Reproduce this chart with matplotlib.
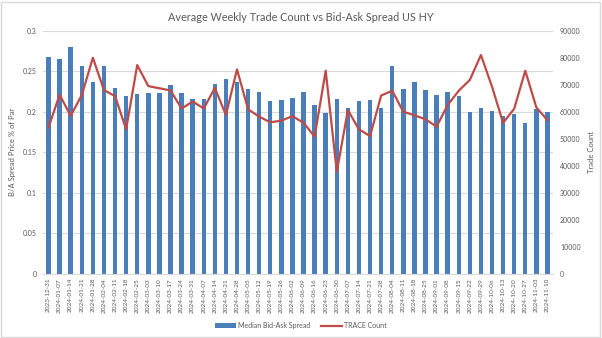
import matplotlib
matplotlib.use("Agg")
import matplotlib.pyplot as plt
from matplotlib.patches import Rectangle
from matplotlib.ticker import FuncFormatter, MultipleLocator

plt.rcParams['font.family'] = ['Lato', 'DejaVu Sans']

weeks = ["2023-12-31", "2024-01-07", "2024-01-14", "2024-01-21", "2024-01-28", "2024-02-04",
         "2024-02-11", "2024-02-18", "2024-02-25", "2024-03-03", "2024-03-10", "2024-03-17",
         "2024-03-24", "2024-03-31", "2024-04-07", "2024-04-14", "2024-04-21", "2024-04-28",
         "2024-05-05", "2024-05-12", "2024-05-19", "2024-05-26", "2024-06-02", "2024-06-09",
         "2024-06-16", "2024-06-23", "2024-06-30", "2024-07-07", "2024-07-14", "2024-07-21",
         "2024-07-28", "2024-08-04", "2024-08-11", "2024-08-18", "2024-08-25", "2024-09-01",
         "2024-09-08", "2024-09-15", "2024-09-22", "2024-09-29", "2024-10-06", "2024-10-13",
         "2024-10-20", "2024-10-27", "2024-11-03", "2024-11-10"]

median_spread = [0.268, 0.265, 0.280, 0.256, 0.237, 0.256, 0.229, 0.219, 0.222, 0.223,
                 0.223, 0.233, 0.223, 0.216, 0.216, 0.234, 0.240, 0.237, 0.228, 0.224,
                 0.213, 0.214, 0.217, 0.225, 0.208, 0.199, 0.216, 0.205, 0.213, 0.215,
                 0.205, 0.257, 0.228, 0.237, 0.227, 0.221, 0.225, 0.220, 0.200, 0.205,
                 0.201, 0.195, 0.197, 0.186, 0.203, 0.200]

trace_count = [54200, 66300, 58500, 66200, 80000, 68000, 65800, 53500, 77300, 69500,
               68700, 67900, 61200, 63800, 61200, 68800, 58800, 75700, 60900, 58200,
               56100, 56700, 58400, 55900, 50800, 75200, 37800, 60600, 53500, 51000,
               66000, 67800, 60000, 58700, 57200, 54500, 62500, 67800, 71800, 81000,
               69300, 55900, 61100, 75200, 61600, 56900]

title = "Average Weekly Trade Count vs Bid-Ask Spread US HY"
left_label = "B/A Spread Price % of Par"
right_label = "Trade Count"
bar_label = "Median Bid-Ask Spread"
line_label = "TRACE Count"

bar_color = "#4A7EBB"
line_color = "#BE4B48"
text_color = "#595959"
grid_color = "#D9D9D9"

fig = plt.figure(figsize=(6.02, 3.38), dpi=100)
ax = fig.add_axes([0.0714, 0.190, 0.8472, 0.719])
x = list(range(len(weeks)))
bars = ax.bar(x, median_spread, width=0.4, color=bar_color, label=bar_label, zorder=2)
ax.set_xlim(-0.5, len(weeks) - 0.5)
ax.set_ylim(0, 0.3)
ax.yaxis.set_major_locator(MultipleLocator(0.05))
ax.yaxis.set_major_formatter(FuncFormatter(lambda v, p: f"{v:g}" if v != 0 else "0"))
ax.set_xticks(x)
ax.set_xticklabels(weeks, rotation=90, fontsize=4.6, color=text_color)
ax.tick_params(axis='both', length=0, colors=text_color)
ax.tick_params(axis='y', labelsize=5, pad=4.5)
ax.tick_params(axis='x', pad=3)
ax.grid(axis='y', color=grid_color, linewidth=0.8, zorder=0)
ax.set_axisbelow(True)
for s in ['top', 'left', 'right']:
    ax.spines[s].set_visible(False)
ax.spines['bottom'].set_color(grid_color)
ax.set_ylabel(left_label, fontsize=5.5, color=text_color, labelpad=5)

ax2 = ax.twinx()
line, = ax2.plot(x, trace_count, color=line_color, linewidth=1.6, label=line_label, zorder=3)
ax2.set_ylim(0, 90000)
ax2.yaxis.set_major_locator(MultipleLocator(10000))
ax2.tick_params(axis='y', length=0, labelsize=5, colors=text_color, pad=5)
for s in ['top', 'left', 'right', 'bottom']:
    ax2.spines[s].set_visible(False)
ax2.set_ylabel(right_label, fontsize=5.5, color=text_color, labelpad=5)

fig.suptitle(title, fontsize=7.8, color=text_color, y=0.965)

fig.legend(handles=[bars, line], labels=[bar_label, line_label], loc='center',
           bbox_to_anchor=(0.5, 0.037), ncol=2, frameon=False, fontsize=5,
           labelcolor=text_color, handlelength=3.0, columnspacing=1.6, handletextpad=0.3)

fig.patches.append(Rectangle((0.002, 0.003), 0.995, 0.992, transform=fig.transFigure,
                             fill=False, edgecolor="#D9D9D9", linewidth=1))

fig.savefig("out.png", dpi=100)
